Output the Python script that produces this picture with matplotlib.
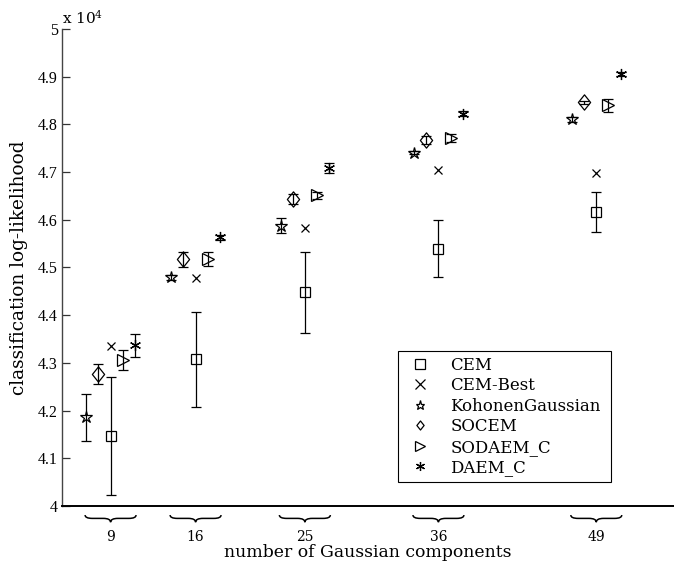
import matplotlib
matplotlib.use("Agg")
import matplotlib.pyplot as plt
from matplotlib.path import Path
from matplotlib.patches import PathPatch
from matplotlib.transforms import blended_transform_factory

# Number of Gaussian components
components = [9, 16, 25, 36, 49]
tick_labels = ["9", "16", "25", "36", "49"]

# Classification log-likelihood (units of 1e4)
cem_mean = [4.147, 4.308, 4.448, 4.539, 4.617]
cem_err = [0.123, 0.0995, 0.0845, 0.060, 0.042]
cem_best = [4.336, 4.477, 4.582, 4.704, 4.699]
kohonen_mean = [4.186, 4.479, 4.588, 4.741, 4.811]
kohonen_err = [0.049, 0.006, 0.016, 0.004, 0.005]
socem_mean = [4.277, 4.517, 4.643, 4.767, 4.846]
socem_err = [0.021, 0.015, 0.010, 0.008, 0.003]
sodaem_mean = [4.306, 4.518, 4.651, 4.771, 4.840]
sodaem_err = [0.021, 0.015, 0.008, 0.008, 0.014]
daem_mean = [4.337, 4.563, 4.708, 4.822, 4.906]
daem_err = [0.024, 0.005, 0.010, 0.005, 0.004]

plt.rcParams["mathtext.fontset"] = "dejavuserif"

fig = plt.figure(figsize=(6.74, 5.67), dpi=100)
ax = fig.add_axes([0.092, 0.1076, 0.908, 0.8413])

def shifted(dx):
    return [c + dx for c in components]

mk_kw = dict(linestyle="none", color="black", markerfacecolor="none",
             markeredgewidth=0.9)
eb_kw = dict(fmt="none", ecolor="black", elinewidth=0.9, capsize=3.6,
             capthick=0.9)

# slightly tall diamond
diamond = Path([(0, 1), (0.8, 0), (0, -1), (-0.8, 0), (0, 1)],
               [Path.MOVETO, Path.LINETO, Path.LINETO, Path.LINETO, Path.CLOSEPOLY])

# error bars
ax.errorbar(shifted(0), cem_mean, yerr=cem_err, **eb_kw)
ax.errorbar(shifted(-2), kohonen_mean, yerr=kohonen_err, **eb_kw)
ax.errorbar(shifted(-1), socem_mean, yerr=socem_err, **eb_kw)
ax.errorbar(shifted(1), sodaem_mean, yerr=sodaem_err, **eb_kw)
ax.errorbar(shifted(2), daem_mean, yerr=daem_err, **eb_kw)

# markers
h1, = ax.plot(shifted(0), cem_mean, marker="s", markersize=6.5, label="CEM", **mk_kw)
h2, = ax.plot(shifted(0), cem_best, marker="x", markersize=6, label="CEM-Best", **mk_kw)
h3, = ax.plot(shifted(-2), kohonen_mean, marker="*", markersize=9, label="KohonenGaussian", **mk_kw)
h4, = ax.plot(shifted(-1), socem_mean, marker=diamond, markersize=11, label="SOCEM", **mk_kw)
h5, = ax.plot(shifted(1), sodaem_mean, marker=">", markersize=8, label="SODAEM_C", **mk_kw)
h6, = ax.plot(shifted(2), daem_mean, marker=(6, 2, 0), markersize=8, label="DAEM_C", **mk_kw)

ax.set_xlim(5, 55.4)
ax.set_ylim(4, 5)
ax.set_yticks([4 + 0.1 * i for i in range(11)])
ax.set_yticklabels([f"{4 + 0.1 * i:g}" for i in range(11)],
                   fontfamily="Liberation Serif", fontsize=11.5)
ax.tick_params(axis="y", direction="in", length=6, width=0.9, pad=3,
               color="#333333")

ax.set_xticks(components)
ax.set_xticklabels(tick_labels, fontfamily="DejaVu Serif", fontsize=10)
ax.tick_params(axis="x", length=0, pad=17)

for s in ("top", "right"):
    ax.spines[s].set_visible(False)
ax.spines["left"].set_color("#444444")
ax.spines["left"].set_linewidth(1.0)
ax.spines["bottom"].set_color("black")
ax.spines["bottom"].set_linewidth(1.4)

# curly braces under each group
tr = blended_transform_factory(ax.transData, ax.transAxes)
half = 2.1
q = 0.6
y_top, y_mid, y_bot = -0.019, -0.026, -0.034
for c in components:
    x0, x1 = c - half, c + half
    verts = [(x0, y_top), (x0, y_mid), (x0 + q, y_mid),
             (c - q, y_mid), (c, y_mid), (c, y_bot),
             (c, y_mid), (c + q, y_mid),
             (x1 - q, y_mid), (x1, y_mid), (x1, y_top)]
    codes = [Path.MOVETO, Path.CURVE3, Path.CURVE3,
             Path.LINETO, Path.CURVE3, Path.CURVE3,
             Path.CURVE3, Path.CURVE3,
             Path.LINETO, Path.CURVE3, Path.CURVE3]
    ax.add_patch(PathPatch(Path(verts, codes), transform=tr, fill=False,
                           lw=1.1, edgecolor="black", clip_on=False))

ax.set_xlabel("number of Gaussian components", fontfamily="DejaVu Serif",
              fontsize=12.4, labelpad=0.5)
ax.set_ylabel("classification log-likelihood", fontfamily="DejaVu Serif",
              fontsize=13.3, labelpad=7)

fig.text(0.092, 0.968, r"x 10$^{4}$", fontfamily="DejaVu Serif", fontsize=11,
         ha="left", va="center")

leg = ax.legend(handles=[h1, h2, h3, h4, h5, h6], loc="upper left",
                bbox_to_anchor=(0.5905, 0.1464, 0.316, 0.2346),
                bbox_transform=fig.transFigure, mode="expand",
                borderaxespad=0, fancybox=False, framealpha=1,
                edgecolor="black", prop={"family": "DejaVu Serif", "size": 12},
                handlelength=2.0, handletextpad=0.8, borderpad=0.35,
                labelspacing=0.21)
leg.get_frame().set_linewidth(0.8)
for hd in leg.legend_handles:
    hd.set_markersize(6.5)

fig.savefig("out.png", dpi=100)
